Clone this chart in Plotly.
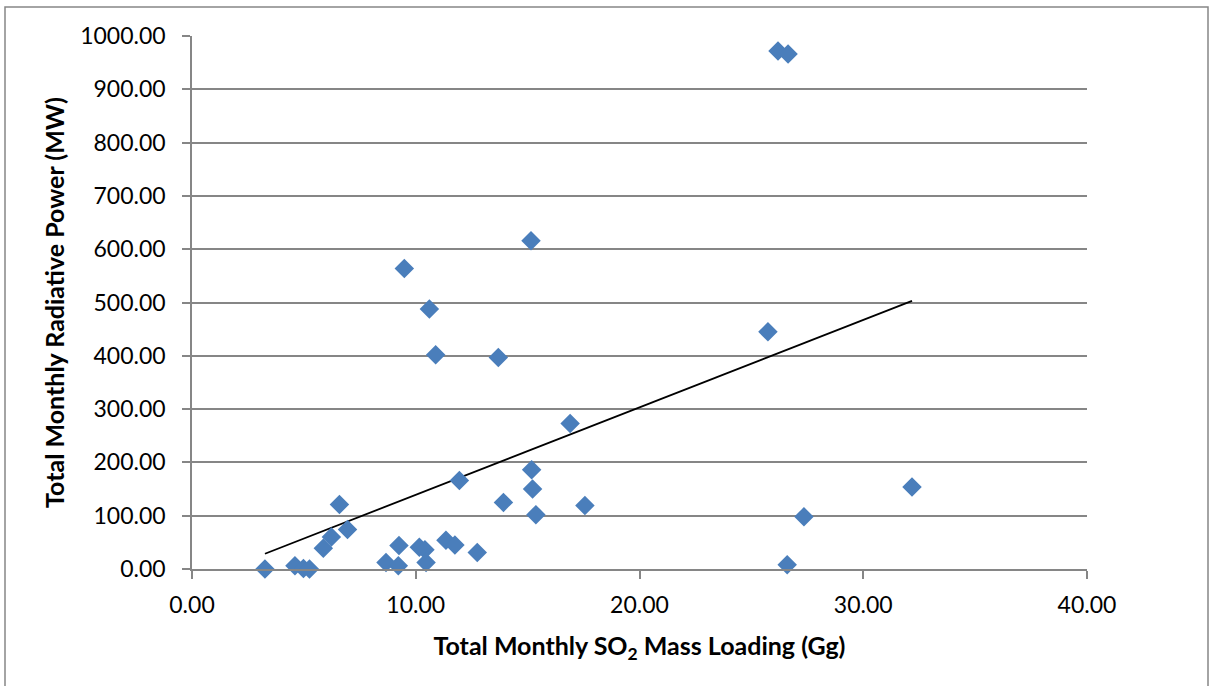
import numpy as np
import plotly.graph_objects as go

so2_gg = [3.26, 4.60, 4.98, 5.25, 5.87, 6.23, 6.59, 6.95, 8.67, 9.22, 9.25, 9.49,
          10.16, 10.41, 10.46, 10.61, 10.89, 11.35, 11.75, 11.95, 12.75, 13.69, 13.92,
          15.15, 15.18, 15.22, 15.37, 16.90, 17.56, 25.74, 26.19, 26.60, 26.64, 27.35, 32.18]
frp_mw = [0, 6, 1, 0, 39, 60, 121, 74, 12, 6, 44, 564,
          41, 36, 12, 488, 402, 54, 45, 166, 31, 397, 125,
          616, 186, 150, 102, 273, 119, 445, 972, 8, 966, 98, 154]

x_ticks = [0, 10, 20, 30, 40]
y_ticks = list(range(0, 1001, 100))

slope, intercept = np.polyfit(so2_gg, frp_mw, 1)
tx = [min(so2_gg), max(so2_gg)]
ty = [slope * v + intercept for v in tx]

FONT = "Lato"
GRID = "#868686"

fig = go.Figure()
fig.add_trace(go.Scatter(x=tx, y=ty, mode="lines",
                         line=dict(color="black", width=1.8),
                         hoverinfo="skip", showlegend=False))
fig.add_trace(go.Scatter(x=so2_gg, y=frp_mw, mode="markers",
                         marker=dict(symbol="diamond", size=15, color="#4A7EBB",
                                     line=dict(width=0)),
                         cliponaxis=False, showlegend=False))

fig.update_layout(
    width=1216, height=686,
    margin=dict(l=192, r=129, t=36, b=117),
    paper_bgcolor="white", plot_bgcolor="white",
    font=dict(family=FONT, size=23, color="black"),
    xaxis=dict(range=[0, 40], tickvals=x_ticks,
               ticktext=[f"{v:.2f}" for v in x_ticks],
               showgrid=False, zeroline=False,
               showline=True, linecolor=GRID, linewidth=1.5,
               ticks="outside", ticklen=8, tickcolor=GRID, tickwidth=1.5,
               ticklabelstandoff=7,
               title=dict(text="<b>Total Monthly SO<sub>2</sub> Mass Loading (Gg)</b>",
                          font=dict(size=25), standoff=20)),
    yaxis=dict(range=[0, 1000], tickvals=y_ticks,
               ticktext=[f"{v:.2f}" for v in y_ticks],
               showgrid=True, gridcolor=GRID, gridwidth=1.5, zeroline=False,
               showline=True, linecolor=GRID, linewidth=1.5,
               ticks="outside", ticklen=8, tickcolor=GRID, tickwidth=1.5,
               ticklabelstandoff=12,
               title=dict(text="<b>Total Monthly Radiative Power (MW)</b>",
                          font=dict(size=25), standoff=8)),
)

# outer chart border
fig.add_shape(type="rect", xref="paper", yref="paper",
              x0=(5 - 192) / 895, x1=(1208 - 192) / 895,
              y0=(569 - 700) / 533, y1=(569 - 7) / 533,
              line=dict(color=GRID, width=1.5), layer="below")

fig.write_html("out.html", config={"displayModeBar": False},
               post_script="document.body.style.margin='0px';document.body.style.overflow='hidden';")
